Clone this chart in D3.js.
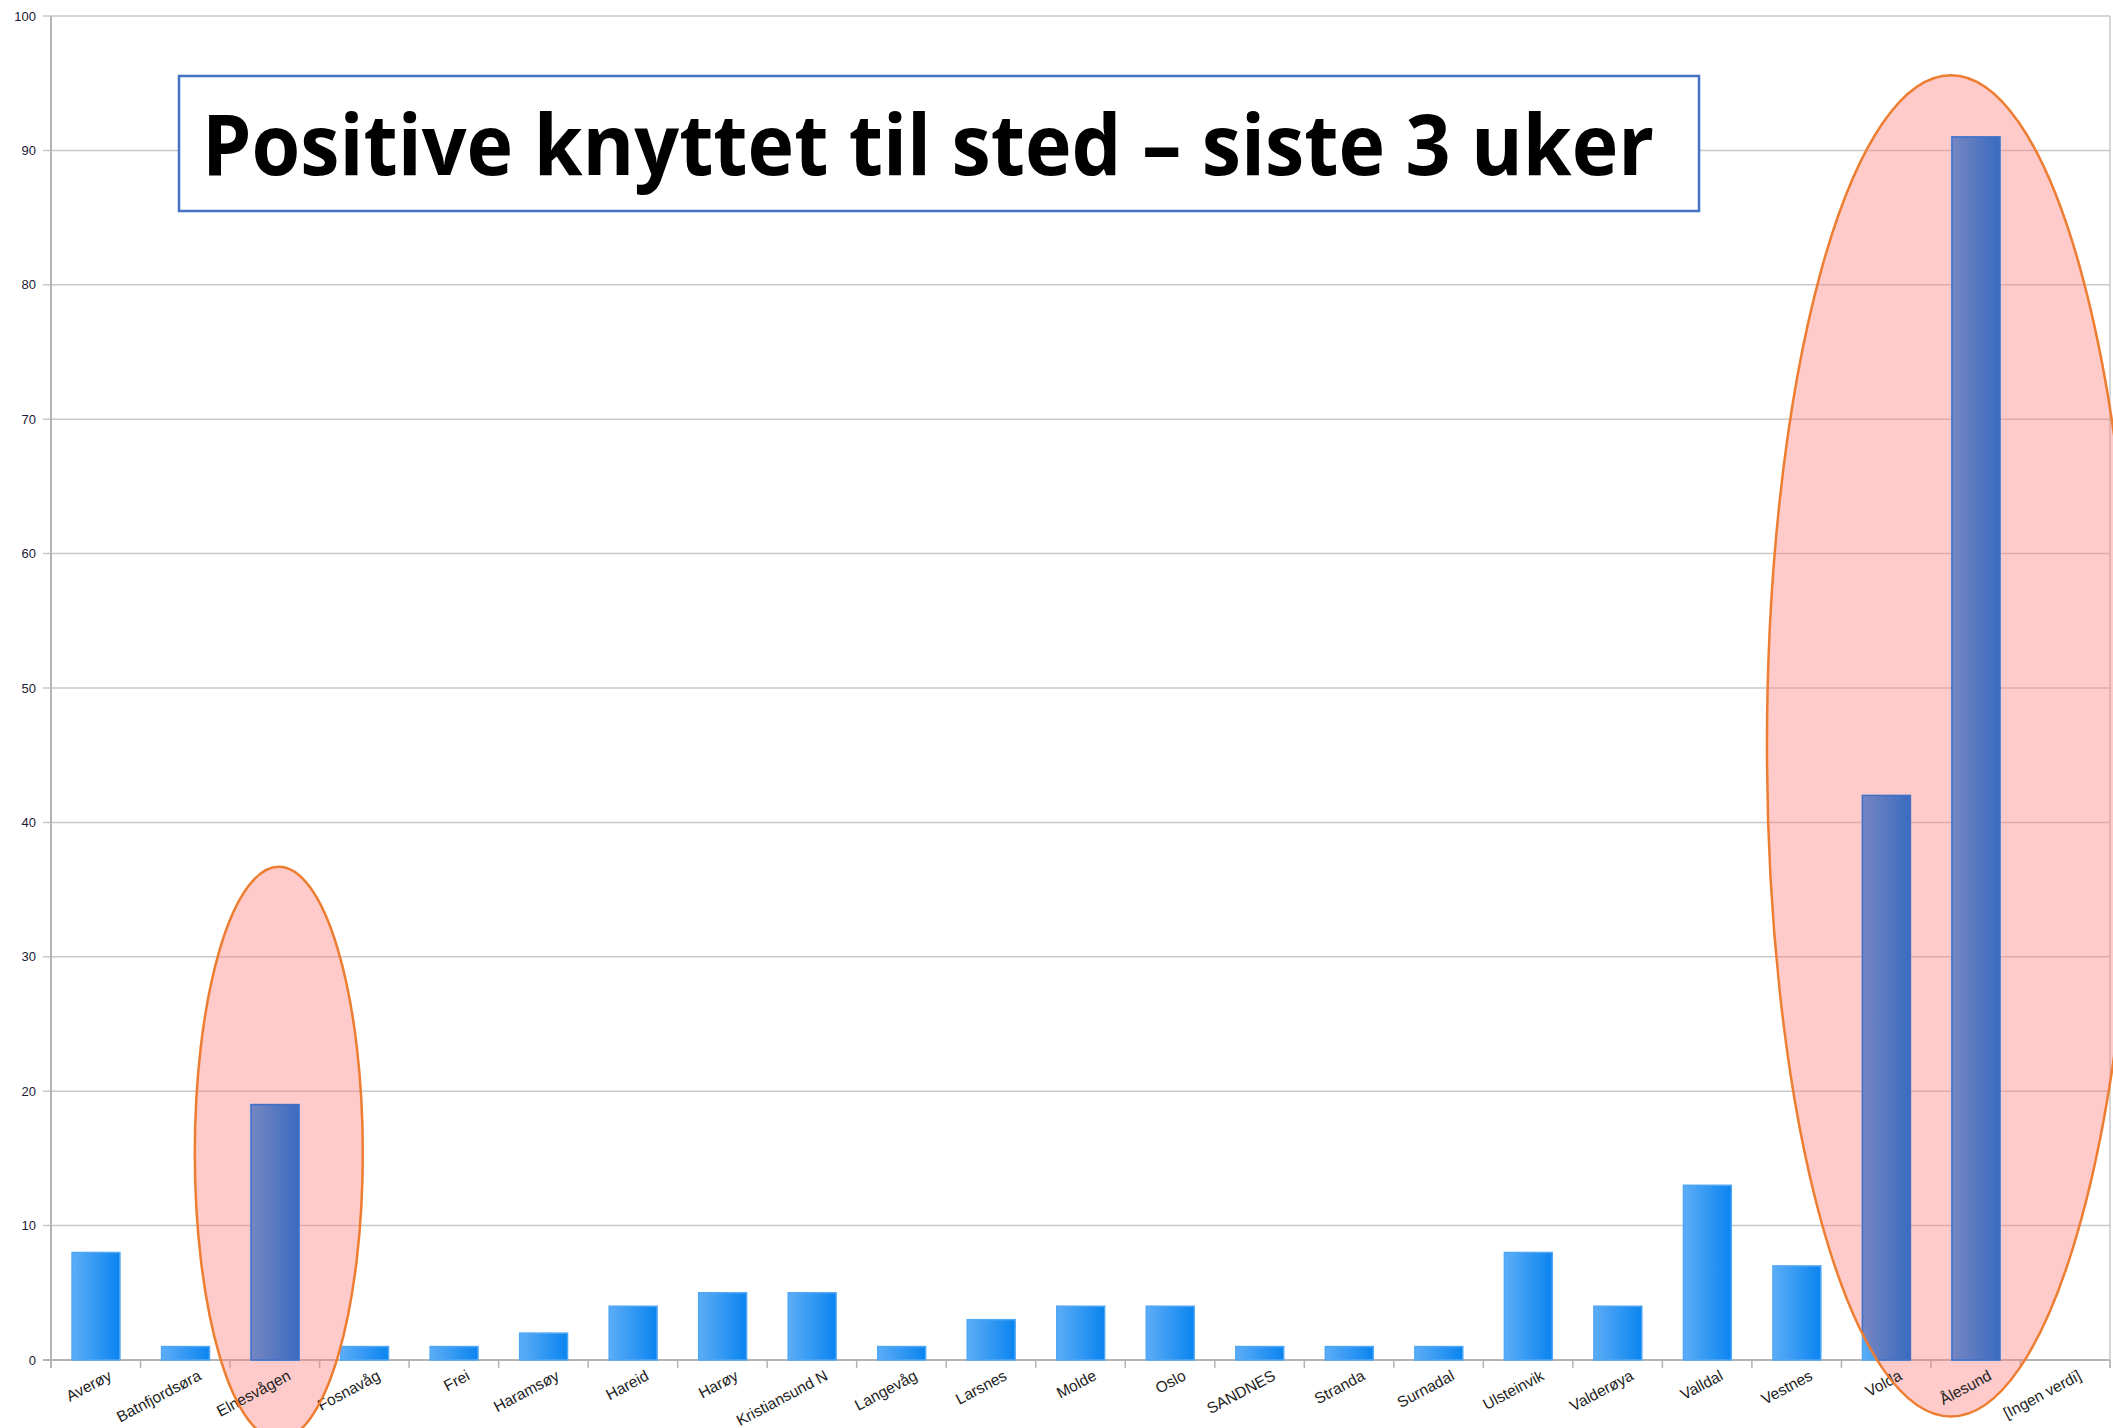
<html>
<head>
<script src="https://d3js.org/d3.v7.min.js" charset="utf-8"></script>
<style>
  body { margin: 0; background: #fff; }
  svg { display: block; }
</style>
</head>
<body>
<div id="chartcontainer"></div>
<script type="text/javascript">
var categories = ["Averøy", "Batnfjordsøra", "Elnesvågen", "Fosnavåg", "Frei", "Haramsøy", "Hareid",
  "Harøy", "Kristiansund N", "Langevåg", "Larsnes", "Molde", "Oslo", "SANDNES", "Stranda", "Surnadal",
  "Ulsteinvik", "Valderøya", "Valldal", "Vestnes", "Volda", "Ålesund", "[Ingen verdi]"];
var values = [8, 1, 19, 1, 1, 2, 4, 5, 5, 1, 3, 4, 4, 1, 1, 1, 8, 4, 13, 7, 42, 91, 0];
var yTicks = [0, 10, 20, 30, 40, 50, 60, 70, 80, 90, 100];
var titleText = "Positive knyttet til sted – siste 3 uker";

var W = 2113, H = 1428;
var plotLeft = 51, plotRight = 2110, plotTop = 16, plotBottom = 1360;

var svg = d3.select("#chartcontainer").append("svg").attr("width", W).attr("height", H);
var defs = svg.append("defs");

var g1 = defs.append("linearGradient").attr("id", "barBlue").attr("x1", 0).attr("x2", 1).attr("y1", 0).attr("y2", 0);
g1.append("stop").attr("offset", "0%").attr("stop-color", "#5cadf6");
g1.append("stop").attr("offset", "100%").attr("stop-color", "#0a84f0");
var g2 = defs.append("linearGradient").attr("id", "barDark").attr("x1", 0).attr("x2", 1).attr("y1", 0).attr("y2", 0);
g2.append("stop").attr("offset", "0%").attr("stop-color", "#7686c2");
g2.append("stop").attr("offset", "100%").attr("stop-color", "#3a6bc0");

var x = d3.scaleBand().domain(categories).range([plotLeft, plotRight]).padding(0);
var y = d3.scaleLinear().domain([0, 100]).range([plotBottom, plotTop]);
var step = x.step();
var barOff = step * 0.235, barW = step * 0.535;

// gridlines
svg.append("g").selectAll("line").data(yTicks).enter().append("line")
  .attr("x1", plotLeft - 8).attr("x2", plotRight)
  .attr("y1", function(d) { return y(d); }).attr("y2", function(d) { return y(d); })
  .attr("stroke", function(d) { return d === 0 ? "#b4b4b4" : "#c8c8c8"; })
  .attr("stroke-width", function(d) { return d === 0 ? 2 : 1.5; });

// y axis line + right border
svg.append("line").attr("x1", plotLeft).attr("x2", plotLeft).attr("y1", plotTop).attr("y2", plotBottom + 8)
  .attr("stroke", "#b4b4b4").attr("stroke-width", 2);
svg.append("line").attr("x1", plotRight).attr("x2", plotRight).attr("y1", plotTop).attr("y2", plotBottom + 8)
  .attr("stroke", "#c8c8c8").attr("stroke-width", 1.5);

// x ticks at band edges
var edges = categories.map(function(c) { return x(c); }).concat([plotRight]);
svg.append("g").selectAll("line").data(edges).enter().append("line")
  .attr("x1", function(d) { return d; }).attr("x2", function(d) { return d; })
  .attr("y1", plotBottom).attr("y2", plotBottom + 8)
  .attr("stroke", "#b4b4b4").attr("stroke-width", 1.5);

// y tick labels
svg.append("g").selectAll("text").data(yTicks).enter().append("text")
  .attr("x", plotLeft - 15).attr("y", function(d) { return y(d) + 4.5; })
  .attr("text-anchor", "end")
  .style("font-family", "Liberation Sans, Arial, sans-serif").style("font-size", "13px")
  .attr("fill", "#1c1c34")
  .text(function(d) { return d; });

// highlight ellipses (annotation)
var ellipses = [
  { cx: x("Elnesvågen") + step / 2 + 4, cy: y(15.4), rx: 84, ry: y(0) - y(21.3) },
  { cx: x("Ålesund") + 20, cy: y(45.7), rx: 184, ry: y(0) - y(49.9) }
];

var clip = defs.append("clipPath").attr("id", "ellClip");
clip.selectAll("ellipse").data(ellipses).enter().append("ellipse")
  .attr("cx", function(d) { return d.cx; }).attr("cy", function(d) { return d.cy; })
  .attr("rx", function(d) { return d.rx; }).attr("ry", function(d) { return d.ry; });

svg.append("g").selectAll("ellipse").data(ellipses).enter().append("ellipse")
  .attr("cx", function(d) { return d.cx; }).attr("cy", function(d) { return d.cy; })
  .attr("rx", function(d) { return d.rx; }).attr("ry", function(d) { return d.ry; })
  .attr("fill", "#ff8080").attr("fill-opacity", 0.42);

// bars
var data = categories.map(function(c, i) { return { name: c, value: values[i] }; })
  .filter(function(d) { return d.value > 0; });

svg.append("g").selectAll("rect").data(data).enter().append("rect")
  .attr("x", function(d) { return x(d.name) + barOff; })
  .attr("y", function(d) { return y(d.value); })
  .attr("width", barW)
  .attr("height", function(d) { return y(0) - y(d.value); })
  .attr("fill", "url(#barBlue)")
  .attr("stroke", "#4fa6f4").attr("stroke-width", 1.5);

svg.append("g").attr("clip-path", "url(#ellClip)").selectAll("rect").data(data).enter().append("rect")
  .attr("x", function(d) { return x(d.name) + barOff; })
  .attr("y", function(d) { return y(d.value); })
  .attr("width", barW)
  .attr("height", function(d) { return y(0) - y(d.value); })
  .attr("fill", "url(#barDark)")
  .attr("stroke", "#4470c4").attr("stroke-width", 1.5);

// x labels
svg.append("g").selectAll("text").data(categories).enter().append("text")
  .attr("transform", function(d) {
    return "translate(" + (x(d) + step / 2 + 17) + "," + (plotBottom + 19) + ") rotate(-28)";
  })
  .attr("text-anchor", "end")
  .style("font-family", "Liberation Sans, Arial, sans-serif").style("font-size", "15.5px")
  .attr("fill", "#222")
  .text(function(d) { return d; });

// ellipse outlines
svg.append("g").selectAll("ellipse").data(ellipses).enter().append("ellipse")
  .attr("cx", function(d) { return d.cx; }).attr("cy", function(d) { return d.cy; })
  .attr("rx", function(d) { return d.rx; }).attr("ry", function(d) { return d.ry; })
  .attr("fill", "none").attr("stroke", "#ed7d31").attr("stroke-width", 2.5);

// title box
svg.append("rect").attr("x", 179).attr("y", 76).attr("width", 1520).attr("height", 135)
  .attr("fill", "#fff").attr("stroke", "#4472c4").attr("stroke-width", 2.5);
svg.append("text").attr("x", 202).attr("y", 175)
  .attr("textLength", 1452).attr("lengthAdjust", "spacingAndGlyphs")
  .style("font-family", "Open Sans, Noto Sans, sans-serif").style("font-weight", "bold").style("font-size", "84px")
  .attr("fill", "#000")
  .text(titleText);
</script>
</body>
</html>
